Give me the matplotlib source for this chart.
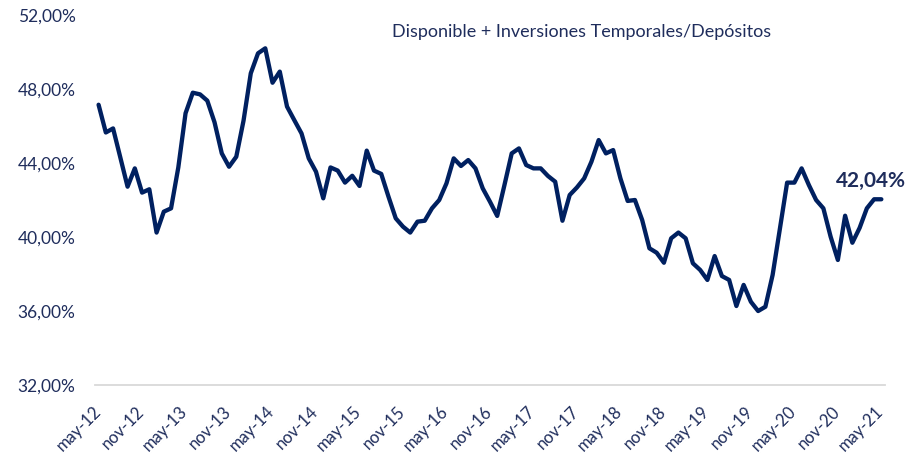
import numpy as np
import matplotlib
matplotlib.use('Agg')
import matplotlib.pyplot as plt
import matplotlib.transforms as mtransforms
from matplotlib.ticker import FuncFormatter

plt.rcParams['font.family'] = ['Lato', 'DejaVu Sans']

# monthly ratio, may-12 .. may-21 (%)
ratio = [47.15, 45.65, 45.87, 44.3, 42.72, 43.71, 42.40, 42.58, 40.24, 41.37,
         41.55, 43.76, 46.69, 47.80, 47.71, 47.37, 46.2, 44.52, 43.80, 44.34,
         46.29, 48.85, 49.93, 50.20, 48.34, 48.94, 47.05, 46.32, 45.60, 44.25,
         43.53, 42.09, 43.76, 43.59, 42.94, 43.31, 42.76, 44.67, 43.59, 43.41,
         42.18, 41.01, 40.56, 40.24, 40.83, 40.88, 41.55, 42.00, 42.90, 44.25,
         43.84, 44.16, 43.71, 42.63, 41.91, 41.14, 42.81, 44.52, 44.79, 43.89,
         43.71, 43.71, 43.30, 42.99, 40.88, 42.27, 42.68, 43.17, 44.07, 45.24,
         44.52, 44.70, 43.17, 41.95, 42.00, 40.92, 39.39, 39.15, 38.61, 39.93,
         40.24, 39.93, 38.58, 38.22, 37.68, 38.97, 37.89, 37.68, 36.27, 37.41,
         36.50, 36.00, 36.23, 37.95, 40.44, 42.94, 42.94, 43.71, 42.81, 42.00,
         41.55, 40.02, 38.76, 41.15, 39.69, 40.49, 41.55, 42.04, 42.04]

tick_labels = ['may-12', 'nov-12', 'may-13', 'nov-13', 'may-14', 'nov-14',
               'may-15', 'nov-15', 'may-16', 'nov-16', 'may-17', 'nov-17',
               'may-18', 'nov-18', 'may-19', 'nov-19', 'may-20', 'nov-20',
               'may-21']
y_ticks = [32, 36, 40, 44, 48, 52]

title = 'Disponible + Inversiones Temporales/Depósitos'
last_label = '42,04%'

navy = '#002060'
txt = '#1f2d5c'

fig = plt.figure(figsize=(9.13, 4.59), dpi=100)
ax = fig.add_axes([0.104, 0.1612, 0.8653, 0.8061])

x = np.arange(len(ratio))
ax.plot(x, ratio, color=navy, lw=3.1, solid_joinstyle='round', solid_capstyle='round')

ax.set_xlim(-0.5, len(ratio) - 0.5)
ax.set_ylim(32, 52)
ax.set_yticks(y_ticks)
ax.yaxis.set_major_formatter(FuncFormatter(lambda v, p: f'{v:.2f}%'.replace('.', ',')))
ax.set_xticks(x[::6])
ax.set_xticklabels(tick_labels, rotation=45, ha='right', va='top',
                   rotation_mode='anchor')

for s in ['top', 'right', 'left']:
    ax.spines[s].set_visible(False)
ax.spines['bottom'].set_color('#d9d9d9')
ax.spines['bottom'].set_linewidth(1.3)
ax.tick_params(axis='both', length=0, colors=txt)
ax.tick_params(axis='y', pad=14, labelsize=12.5)
ax.tick_params(axis='x', pad=13, labelsize=12)

# nudge rotated labels left so their end sits on the point
shift = mtransforms.ScaledTranslation(-6 / 100, 0, fig.dpi_scale_trans)
for lab in ax.get_xticklabels():
    lab.set_transform(lab.get_transform() + shift)

fig.text(0.637, 0.93, title, ha='center', va='center', fontsize=13, color=txt)

ax.annotate(last_label, xy=(x[-1], ratio[-1]), xytext=(-10, 8),
            textcoords='offset pixels', ha='center', va='bottom',
            fontsize=15, fontweight='bold', color=txt)

fig.savefig('out.png', dpi=100)
